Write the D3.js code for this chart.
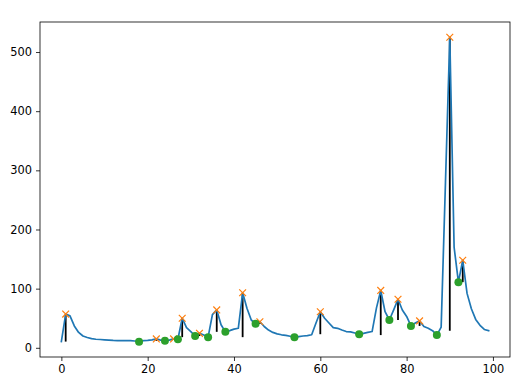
<!DOCTYPE html>
<html>
<head>
<meta charset="utf-8">
<script src="https://cdn.jsdelivr.net/npm/d3@7"></script>
<style>
  body { margin: 0; background: #fff; }
  svg { display: block; }
</style>
</head>
<body>
<div id="chart"></div>
<script>
// signal values (index = sample number)
const signal = [
  10.5, 57, 54, 37, 26, 20, 17.5, 15.5, 14.5, 14,
  13.5, 13, 12.5, 12.3, 12, 12, 12, 11.5, 10.2, 12,
  12.5, 13.5, 15, 13, 11.8, 13, 15, 14.5, 50, 34,
  27.5, 20, 24.5, 21.5, 18, 56, 64, 39, 27, 29,
  31.5, 33, 93, 67, 47, 40.5, 44, 36, 30, 26,
  23.5, 22, 21, 19.5, 18, 19, 20, 20.5, 22, 42,
  61, 50, 42, 34, 33, 30, 27.5, 27, 25, 23,
  24.5, 26, 27.5, 67, 97, 61, 47, 64, 82, 64,
  53, 37, 42, 45.5, 36, 33, 29, 21.5, 35, 280,
  525, 170, 111, 148, 92, 66, 48, 38, 31, 29
];

// peak and valley positions
const peaks = [1, 22, 26, 28, 32, 36, 42, 46, 60, 74, 78, 83, 90, 93];
const valleys = [18, 24, 27, 31, 34, 38, 45, 54, 69, 76, 81, 87, 92];

const xTicks = [0, 20, 40, 60, 80, 100];
const yTicks = [0, 100, 200, 300, 400, 500];

// contour height = peak - prominence (same idea as scipy.signal.peak_prominences)
function contourHeight(i) {
  const h = signal[i];
  let leftMin = h, rightMin = h;
  for (let j = i - 1; j >= 0 && signal[j] <= h; j--) leftMin = Math.min(leftMin, signal[j]);
  for (let j = i + 1; j < signal.length && signal[j] <= h; j++) rightMin = Math.min(rightMin, signal[j]);
  return Math.max(leftMin, rightMin);
}

const width = 524, height = 389;
const margin = { top: 22, right: 14, bottom: 32, left: 40 };

const svg = d3.select("#chart").append("svg")
    .attr("width", width)
    .attr("height", height)
    .style("font-family", "'DejaVu Sans', sans-serif");

const n = signal.length;
const xPad = (n - 1) * 0.05;
const x = d3.scaleLinear()
    .domain([-xPad, n - 1 + xPad])
    .range([margin.left, width - margin.right]);

const [lo, hi] = d3.extent(signal);
const yPad = (hi - lo) * 0.05;
const y = d3.scaleLinear()
    .domain([lo - yPad, hi + yPad])
    .range([height - margin.bottom, margin.top]);

// vertical prominence lines
svg.append("g")
    .attr("stroke", "black")
    .attr("stroke-width", 1.8)
    .selectAll("line")
    .data(peaks)
    .join("line")
    .attr("x1", d => x(d))
    .attr("x2", d => x(d))
    .attr("y1", d => y(contourHeight(d)))
    .attr("y2", d => y(signal[d]));

// the signal
const line = d3.line()
    .x((d, i) => x(i))
    .y(d => y(d));

svg.append("path")
    .datum(signal)
    .attr("fill", "none")
    .attr("stroke", "#1f77b4")
    .attr("stroke-width", 1.7)
    .attr("stroke-linejoin", "round")
    .attr("stroke-linecap", "square")
    .attr("d", line);

// peak markers (x)
const s = 3.4;
svg.append("g")
    .attr("stroke", "#ff7f0e")
    .attr("stroke-width", 1.2)
    .selectAll("path")
    .data(peaks)
    .join("path")
    .attr("d", d => {
        const cx = x(d), cy = y(signal[d]);
        return `M${cx - s},${cy - s}L${cx + s},${cy + s}M${cx - s},${cy + s}L${cx + s},${cy - s}`;
    });

// valley markers (o)
svg.append("g")
    .attr("fill", "#2ca02c")
    .selectAll("circle")
    .data(valleys)
    .join("circle")
    .attr("cx", d => x(d))
    .attr("cy", d => y(signal[d]))
    .attr("r", 4);

// axes
const xAxis = svg.append("g")
    .attr("transform", `translate(0,${height - margin.bottom})`)
    .call(d3.axisBottom(x).tickValues(xTicks).tickSize(4).tickPadding(4).tickSizeOuter(0));

const yAxis = svg.append("g")
    .attr("transform", `translate(${margin.left},0)`)
    .call(d3.axisLeft(y).tickValues(yTicks).tickSize(4).tickPadding(4).tickSizeOuter(0));

for (const ax of [xAxis, yAxis]) {
    ax.select(".domain").remove();
    ax.selectAll("text").attr("font-size", 11.4).attr("fill", "black").attr("font-family", "'DejaVu Sans', sans-serif");
    ax.selectAll("line").attr("stroke", "black").attr("stroke-width", 0.8);
}

// frame
svg.append("rect")
    .attr("x", margin.left)
    .attr("y", margin.top)
    .attr("width", width - margin.left - margin.right)
    .attr("height", height - margin.top - margin.bottom)
    .attr("fill", "none")
    .attr("stroke", "black")
    .attr("stroke-width", 0.8);
</script>
</body>
</html>
